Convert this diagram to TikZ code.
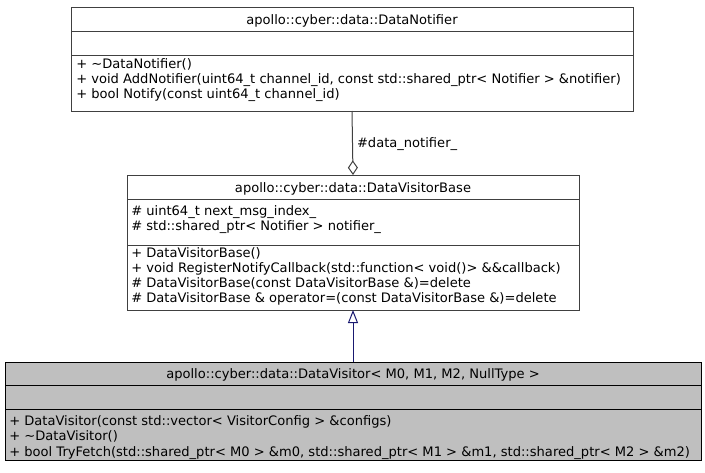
\documentclass[tikz,border=0pt]{standalone}
\usepackage{fontspec}
\setmainfont{DejaVu Sans}
\usetikzlibrary{arrows.meta}
\definecolor{edgegray}{HTML}{404040}
\definecolor{inhblue}{HTML}{191970}
\definecolor{focusfill}{HTML}{BFBFBF}
\tikzset{
  classbox/.style={draw=edgegray, line width=0.75pt, anchor=north west, inner sep=0pt, outer sep=0pt},
  divider/.style={draw=edgegray, line width=0.75pt},
  umltext/.style={inner sep=0pt, font=\fontsize{9.8pt}{11pt}\selectfont},
  title/.style={umltext, anchor=base},
  member/.style={umltext, anchor=base west},
  aggregation/.style={draw=edgegray, line width=0.75pt, {Diamond[open, length=11pt, width=7.5pt, line width=0.75pt]}-},
  inheritance/.style={draw=inhblue, line width=0.75pt, -{Triangle[open, length=9.75pt, width=7.5pt, line width=0.75pt]}},
}
\begin{document}
\begin{tikzpicture}[x=0.75pt, y=-0.75pt]
\useasboundingbox (0,0) rectangle (705,472);

% DataNotifier
\node[classbox, minimum width=562*0.75pt, minimum height=104*0.75pt] (notifier) at (71,7) {};
\draw[divider] (71,31) -- (633,31);
\draw[divider] (71,55) -- (633,55);
\node[title] (notifierTitle) at (352,24) {apollo::cyber::data::DataNotifier};
\node[member] (n1) at (76,68) {+ \textasciitilde DataNotifier()};
\node[member] (n2) at (76,83) {+ void AddNotifier(uint64\_t channel\_id, const std::shared\_ptr< Notifier > \&notifier)};
\node[member] (n3) at (76,98) {+ bool Notify(const uint64\_t channel\_id)};

% DataVisitorBase
\node[classbox, minimum width=452*0.75pt, minimum height=135*0.75pt] (visitorbase) at (127,175) {};
\draw[divider] (127,199) -- (579,199);
\draw[divider] (127,245) -- (579,245);
\node[title] (baseTitle) at (353,192) {apollo::cyber::data::DataVisitorBase};
\node[member] (b1) at (131,215) {\# uint64\_t next\_msg\_index\_};
\node[member] (b2) at (131,230) {\# std::shared\_ptr< Notifier > notifier\_};
\node[member] (b3) at (131,257) {+ DataVisitorBase()};
\node[member] (b4) at (131,272) {+ void RegisterNotifyCallback(std::function< void()> \&\&callback)};
\node[member] (b5) at (131,287) {\# DataVisitorBase(const DataVisitorBase \&)=delete};
\node[member] (b6) at (131,302) {\# DataVisitorBase \& operator=(const DataVisitorBase \&)=delete};

% DataVisitor< M0, M1, M2, NullType >
\node[classbox, draw=black, fill=focusfill, minimum width=696*0.75pt, minimum height=98*0.75pt] (visitor) at (5,362) {};
\draw[divider, draw=black] (5,385) -- (701,385);
\draw[divider, draw=black] (5,409) -- (701,409);
\node[title] (visitorTitle) at (353,378) {apollo::cyber::data::DataVisitor< M0, M1, M2, NullType >};
\node[member] (v1) at (9,425) {+ DataVisitor(const std::vector< VisitorConfig > \&configs)};
\node[member] (v2) at (9,440) {+ \textasciitilde DataVisitor()};
\node[member] (v3) at (9,456) {+ bool TryFetch(std::shared\_ptr< M0 > \&m0, std::shared\_ptr< M1 > \&m1, std::shared\_ptr< M2 > \&m2)};

% relations
\draw[aggregation] (visitorbase.north) -- node[right=3pt, umltext, pos=0.48] (aggLabel) {\#data\_notifier\_} (notifier.south);
\draw[inheritance] (visitor.north) -- (visitorbase.south);
\end{tikzpicture}
\end{document}
